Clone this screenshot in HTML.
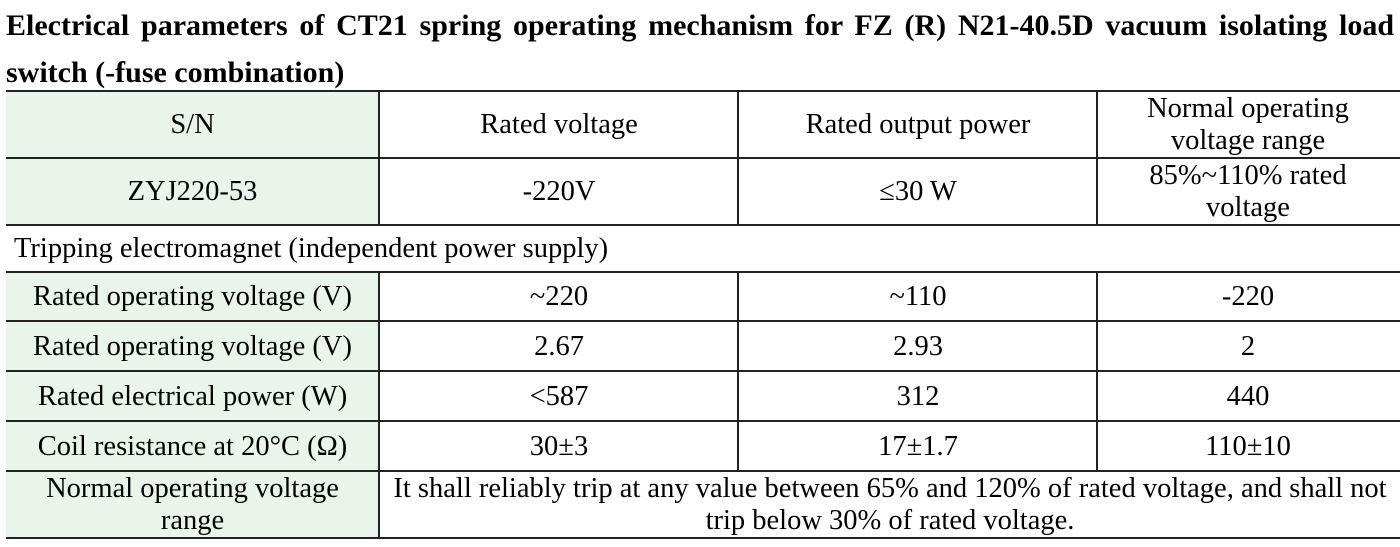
<!DOCTYPE html>
<html><head><meta charset="utf-8"><style>
body{margin:0;width:1400px;height:547px;background:#fff;overflow:hidden;font-family:"Liberation Serif",serif;color:#000}
.t{position:absolute;left:6px;top:2px;width:1388px;font-weight:bold;font-size:30px;line-height:47px;text-align:justify;text-align-last:left}
.c{position:absolute;display:flex;align-items:center;justify-content:center;text-align:center;font-size:28.5px;line-height:32px;box-sizing:border-box;white-space:nowrap}
.g{background:#e9f4ea}
.h{position:absolute;left:6px;width:1394px;height:2px;background:#222}
.v{position:absolute;width:2px;background:#222}
</style></head><body>
<div class="t">Electrical parameters of CT21 spring operating mechanism for FZ (R) N21-40.5D vacuum isolating load switch (-fuse combination)</div>

<div class="c g" style="left:6px;top:92px;width:373px;height:66px">S/N</div>
<div class="c" style="left:380px;top:92px;width:358px;height:66px">Rated voltage</div>
<div class="c" style="left:739px;top:92px;width:358px;height:66px">Rated output power</div>
<div class="c" style="left:1098px;top:92px;width:300px;height:66px">Normal operating<br>voltage range</div>

<div class="c g" style="left:6px;top:159px;width:373px;height:66px">ZYJ220-53</div>
<div class="c" style="left:380px;top:159px;width:358px;height:66px">-220V</div>
<div class="c" style="left:739px;top:159px;width:358px;height:66px">≤30 W</div>
<div class="c" style="left:1098px;top:159px;width:300px;height:66px">85%~110% rated<br>voltage</div>

<div class="c" style="left:14px;top:226px;height:46px;justify-content:flex-start">Tripping electromagnet (independent power supply)</div>

<div class="c g" style="left:6px;top:273px;width:373px;height:48px">Rated operating voltage (V)</div>
<div class="c" style="left:380px;top:273px;width:358px;height:48px">~220</div>
<div class="c" style="left:739px;top:273px;width:358px;height:48px">~110</div>
<div class="c" style="left:1098px;top:273px;width:300px;height:48px">-220</div>

<div class="c g" style="left:6px;top:322px;width:373px;height:49px">Rated operating voltage (V)</div>
<div class="c" style="left:380px;top:322px;width:358px;height:49px">2.67</div>
<div class="c" style="left:739px;top:322px;width:358px;height:49px">2.93</div>
<div class="c" style="left:1098px;top:322px;width:300px;height:49px">2</div>

<div class="c g" style="left:6px;top:372px;width:373px;height:49px">Rated electrical power (W)</div>
<div class="c" style="left:380px;top:372px;width:358px;height:49px">&lt;587</div>
<div class="c" style="left:739px;top:372px;width:358px;height:49px">312</div>
<div class="c" style="left:1098px;top:372px;width:300px;height:49px">440</div>

<div class="c g" style="left:6px;top:422px;width:373px;height:49px">Coil resistance at 20°C (Ω)</div>
<div class="c" style="left:380px;top:422px;width:358px;height:49px">30±3</div>
<div class="c" style="left:739px;top:422px;width:358px;height:49px">17±1.7</div>
<div class="c" style="left:1098px;top:422px;width:300px;height:49px">110±10</div>

<div class="c g" style="left:6px;top:472px;width:373px;height:65px">Normal operating voltage<br>range</div>
<div class="c" style="left:380px;top:472px;width:1020px;height:65px">It shall reliably trip at any value between 65% and 120% of rated voltage, and shall not<br>trip below 30% of rated voltage.</div>

<div class="h" style="top:90px"></div>
<div class="h" style="top:157px"></div>
<div class="h" style="top:224px"></div>
<div class="h" style="top:271px"></div>
<div class="h" style="top:320px"></div>
<div class="h" style="top:370px"></div>
<div class="h" style="top:420px"></div>
<div class="h" style="top:470px"></div>
<div class="h" style="top:537px"></div>

<div class="v" style="left:378px;top:90px;height:135px"></div>
<div class="v" style="left:737px;top:90px;height:135px"></div>
<div class="v" style="left:1096px;top:90px;height:135px"></div>
<div class="v" style="left:378px;top:271px;height:267px"></div>
<div class="v" style="left:737px;top:271px;height:200px"></div>
<div class="v" style="left:1096px;top:271px;height:200px"></div>
</body></html>
